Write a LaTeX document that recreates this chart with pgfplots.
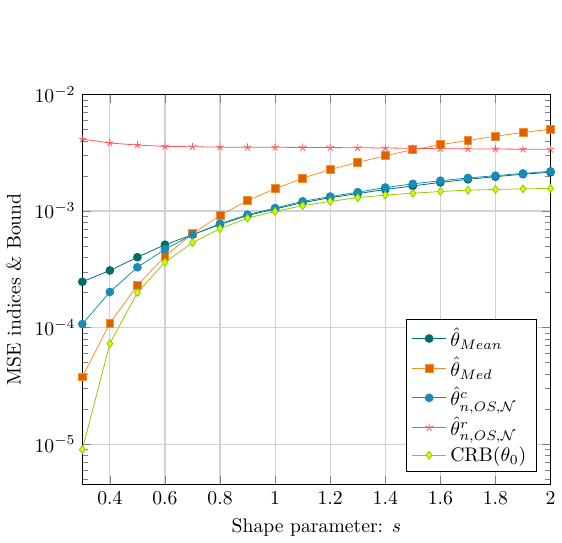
\documentclass[border=0pt]{standalone}
\usepackage{pgfplots}
\pgfplotsset{compat=1.18}
\usepackage{amssymb}
\definecolor{cmean}{RGB}{0,108,108}
\definecolor{cmedl}{RGB}{255,140,40}
\definecolor{cmedf}{RGB}{215,100,0}
\definecolor{cc}{RGB}{22,140,182}
\definecolor{cr}{RGB}{255,85,85}
\definecolor{ccrbl}{RGB}{150,200,0}
\definecolor{ccrbf}{RGB}{205,255,0}
\begin{document}
\begin{tikzpicture}
\begin{axis}[
  scale only axis,
  width=238pt, height=198pt,
  ymode=log,
  xmin=0.3, xmax=2,
  ymin=4.55e-6, ymax=1e-2,
  xtick={0.4,0.6,...,2.0},
  xticklabels={0.4,0.6,0.8,1,1.2,1.4,1.6,1.8,2},
  grid=major,
  major grid style={gray!35, line width=0.6pt},
  xlabel={Shape parameter: $s$},
  ylabel={MSE indices \& Bound},
  legend pos=south east,
  legend cell align=left,
  legend style={font=\normalsize},
]
\addplot[cmean, mark=*, mark options={fill=cmean}] coordinates {
(0.3,2.47e-4)(0.4,3.09e-4)(0.5,4.01e-4)(0.6,5.14e-4)(0.7,6.26e-4)(0.8,7.67e-4)(0.9,9.16e-4)(1.0,1.04e-3)
(1.1,1.18e-3)(1.2,1.30e-3)(1.3,1.41e-3)(1.4,1.53e-3)(1.5,1.64e-3)(1.6,1.76e-3)(1.7,1.87e-3)(1.8,1.97e-3)(1.9,2.07e-3)(2.0,2.15e-3)};
\addlegendentry{$\hat{\theta}_{Mean}$}
\addplot[cmedl, mark=square*, mark options={fill=cmedf, draw=cmedl}] coordinates {
(0.3,3.77e-5)(0.4,1.09e-4)(0.5,2.30e-4)(0.6,4.08e-4)(0.7,6.38e-4)(0.8,9.16e-4)(0.9,1.23e-3)(1.0,1.55e-3)
(1.1,1.91e-3)(1.2,2.27e-3)(1.3,2.61e-3)(1.4,2.98e-3)(1.5,3.36e-3)(1.6,3.70e-3)(1.7,4.03e-3)(1.8,4.38e-3)(1.9,4.72e-3)(2.0,5.03e-3)};
\addlegendentry{$\hat{\theta}_{Med}$}
\addplot[cc, mark=*, mark options={fill=cc}] coordinates {
(0.3,1.07e-4)(0.4,2.02e-4)(0.5,3.29e-4)(0.6,4.69e-4)(0.7,6.26e-4)(0.8,7.78e-4)(0.9,9.30e-4)(1.0,1.06e-3)
(1.1,1.21e-3)(1.2,1.33e-3)(1.3,1.45e-3)(1.4,1.59e-3)(1.5,1.71e-3)(1.6,1.82e-3)(1.7,1.92e-3)(1.8,2.01e-3)(1.9,2.10e-3)(2.0,2.19e-3)};
\addlegendentry{$\hat{\theta}^{c}_{n,OS,\mathcal{N}}$}
\addplot[cr, mark=star, mark options={draw=cr}] coordinates {
(0.3,4.14e-3)(0.4,3.83e-3)(0.5,3.68e-3)(0.6,3.58e-3)(0.7,3.56e-3)(0.8,3.53e-3)(0.9,3.52e-3)(1.0,3.52e-3)
(1.1,3.51e-3)(1.2,3.50e-3)(1.3,3.49e-3)(1.4,3.47e-3)(1.5,3.45e-3)(1.6,3.42e-3)(1.7,3.41e-3)(1.8,3.40e-3)(1.9,3.39e-3)(2.0,3.38e-3)};
\addlegendentry{$\hat{\theta}^{r}_{n,OS,\mathcal{N}}$}
\addplot[ccrbl, mark=diamond*, mark options={fill=ccrbf, draw=ccrbl}] coordinates {
(0.3,8.97e-6)(0.4,7.28e-5)(0.5,2.00e-4)(0.6,3.63e-4)(0.7,5.35e-4)(0.8,7.05e-4)(0.9,8.69e-4)(1.0,9.90e-4)
(1.1,1.11e-3)(1.2,1.21e-3)(1.3,1.30e-3)(1.4,1.37e-3)(1.5,1.42e-3)(1.6,1.47e-3)(1.7,1.51e-3)(1.8,1.53e-3)(1.9,1.55e-3)(2.0,1.56e-3)};
\addlegendentry{CRB$(\theta_0)$}
\end{axis}
\path (current axis.north) ++(0,48pt);
\end{tikzpicture}
\end{document}
